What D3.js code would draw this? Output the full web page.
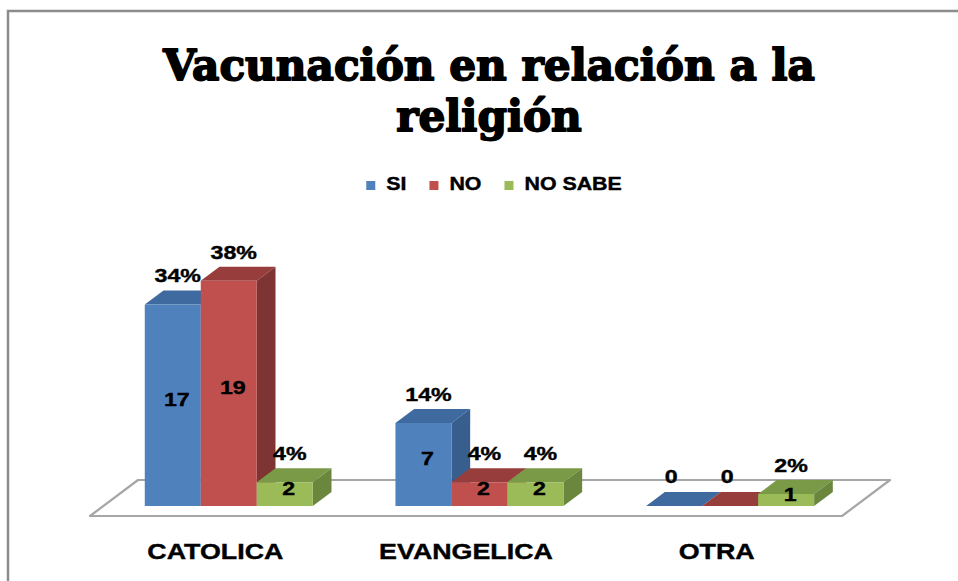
<!DOCTYPE html>
<html>
<head>
<meta charset="utf-8">
<script src="https://cdn.jsdelivr.net/npm/d3@7"></script>
<style>
  html, body { margin: 0; padding: 0; background: #ffffff; }
  svg { display: block; }
</style>
</head>
<body>
<svg id="chart" width="958" height="581"></svg>
<script>
// ---- data ----
const categories = ["CATOLICA", "EVANGELICA", "OTRA"];
const seriesNames = ["SI", "NO", "NO SABE"];
const valuesSI = [17, 7, 0];
const valuesNO = [19, 2, 0];
const valuesNoSabe = [2, 2, 1];
const titleLines = ["Vacunación en relación a la", "religión"];

const seriesValues = [valuesSI, valuesNO, valuesNoSabe];
const total = d3.sum(seriesValues.flat());

// ---- style ----
const colors = {
  front: ["#4F81BD", "#C0504D", "#9BBB59"],
  top:   ["#3F6AA0", "#973E3C", "#7A9A47"],
  side:  ["#385E8D", "#7E3432", "#6A873D"]
};
const SX = 1.22; // horizontal stretch of the original picture's text
const sansFont = "'Liberation Sans', Arial, sans-serif";

const svg = d3.select("#chart");

// outer border
svg.append("rect")
  .attr("x", 8).attr("y", 11)
  .attr("width", 1000).attr("height", 700)
  .attr("fill", "none").attr("stroke", "#8c8c8c").attr("stroke-width", 2.5);

// ---- 3D geometry ----
const floorFrontY = 516;
const depthDX = 48, depthDY = -36;       // full floor depth offset
const z0 = 0.28, z1 = 0.67;              // bar depth range (fraction of floor depth)
const proj = (x, y, z) => [x + z * depthDX, y + z * depthDY];

const xCat = d3.scaleBand().domain(categories).range([90, 842]).paddingInner(0).paddingOuter(0);
const barW = 56;
const xSeries = d3.scaleBand().domain(seriesNames).range([0, barW * 3]);
const hScale = d3.scaleLinear().domain([0, 20]).range([0, 237]);

// floor
const floorPts = [
  proj(xCat.range()[0], floorFrontY, 0),
  proj(xCat.range()[1], floorFrontY, 0),
  proj(xCat.range()[1], floorFrontY, 1),
  proj(xCat.range()[0], floorFrontY, 1)
];
svg.append("polygon")
  .attr("points", floorPts.map(p => p.join(",")).join(" "))
  .attr("fill", "#ffffff")
  .attr("stroke", "#a6a6a6")
  .attr("stroke-width", 2.2)
  .attr("stroke-linejoin", "round");

// bars
const bars = [];
categories.forEach((c, ci) => {
  const groupLeft = xCat(c) + (xCat.bandwidth() - barW * 3) / 2;
  seriesNames.forEach((s, si) => {
    bars.push({ c, ci, s, si, v: seriesValues[si][ci], x0: groupLeft + xSeries(s), x1: groupLeft + xSeries(s) + barW });
  });
});

const gBars = svg.append("g");
const poly = pts => pts.map(p => p.join(",")).join(" ");

bars.forEach(b => {
  const h = hScale(b.v);
  const yb = floorFrontY, yt = floorFrontY - h;
  const fBL = proj(b.x0, yb, z0), fBR = proj(b.x1, yb, z0);
  const fTL = proj(b.x0, yt, z0), fTR = proj(b.x1, yt, z0);
  const bTL = proj(b.x0, yt, z1), bTR = proj(b.x1, yt, z1), bBR = proj(b.x1, yb, z1);
  const g = gBars.append("g");
  g.append("polygon").attr("points", poly([fTL, fTR, bTR, bTL])).attr("fill", colors.top[b.si]);
  if (h > 0) {
    g.append("polygon").attr("points", poly([fTR, fBR, bBR, bTR])).attr("fill", colors.side[b.si]);
    g.append("polygon").attr("points", poly([fTL, fTR, fBR, fBL])).attr("fill", colors.front[b.si]);
  }
  b.frontCx = (fTL[0] + fTR[0]) / 2;
  b.frontTop = fTL[1];
  b.frontBottom = fBL[1];
  b.backTop = bTL[1];
});

// labels
const gLab = svg.append("g")
  .attr("font-family", sansFont).attr("font-weight", "bold").attr("fill", "#000");

function stretchedText(parent, x, y, txt, size) {
  return parent.append("text")
    .attr("transform", `translate(${x},${y}) scale(${SX},1)`)
    .attr("text-anchor", "middle")
    .attr("font-size", size)
    .attr("stroke", "#000").attr("stroke-width", 0.4)
    .text(txt);
}

bars.forEach(b => {
  if (b.v > 0) {
    const cy = (b.frontTop + b.frontBottom) / 2 - 6;
    stretchedText(gLab, b.frontCx + 4, cy + 7, String(b.v), 19);
    const pct = Math.round(b.v / total * 100) + "%";
    stretchedText(gLab, b.frontCx + 5, b.backTop - 8, pct, 19);
  } else {
    stretchedText(gLab, b.frontCx - 3, b.backTop - 9, String(b.v), 19);
  }
});

// category labels
categories.forEach(c => {
  stretchedText(gLab, xCat(c) + xCat.bandwidth() / 2, 559, c, 22);
});

// legend
const gLeg = svg.append("g").attr("font-family", sansFont).attr("font-weight", "bold");
let lx = 0;
seriesNames.forEach((s, si) => {
  const it = gLeg.append("g");
  it.append("rect").attr("x", 0).attr("y", -9).attr("width", 9).attr("height", 9).attr("fill", colors.front[si]);
  const t = it.append("text").attr("transform", `translate(20,0) scale(${SX},1)`)
    .attr("font-size", 17.5).attr("stroke", "#000").attr("stroke-width", 0.4).text(s);
  const w = t.node().getComputedTextLength() * SX;
  it.attr("transform", `translate(${lx},0)`);
  lx += 20 + w + 23;
});
const legW = lx - 23;
gLeg.attr("transform", `translate(${494 - legW / 2},190)`);

// title
const gTitle = svg.append("g")
  .attr("font-family", "'DejaVu Serif', serif").attr("font-weight", "bold").attr("fill", "#000");
const t1 = gTitle.append("text").attr("text-anchor", "middle").attr("font-size", 43)
  .attr("stroke", "#000").attr("stroke-width", 1.8).attr("stroke-linejoin", "round").text(titleLines[0]);
const w1 = t1.node().getComputedTextLength();
const tsx = 652 / w1;
t1.attr("transform", `translate(489,80) scale(${tsx},1)`);
gTitle.append("text").attr("text-anchor", "middle").attr("font-size", 43)
  .attr("stroke", "#000").attr("stroke-width", 1.8).attr("stroke-linejoin", "round")
  .attr("transform", `translate(489,131) scale(${tsx},1)`).text(titleLines[1]);
</script>
</body>
</html>
